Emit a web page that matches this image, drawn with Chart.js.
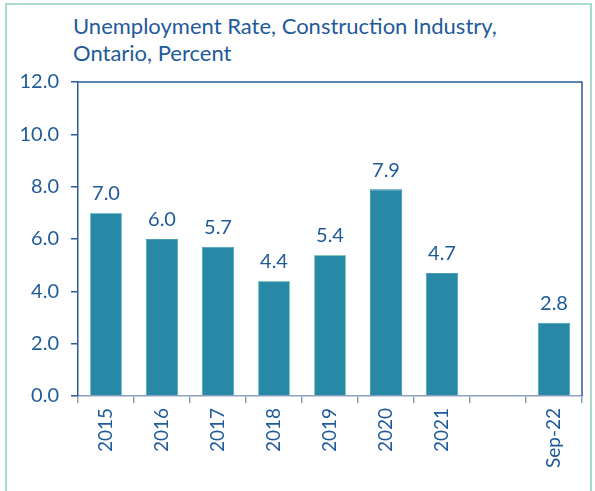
<!DOCTYPE html>
<html><head><meta charset="utf-8">
<script src="https://cdn.jsdelivr.net/npm/chart.js@4"></script>
<style>
html,body{margin:0;padding:0;background:#fff;}
#wrap{position:relative;width:595px;height:491px;overflow:hidden;}
#frame{position:absolute;left:5px;top:3px;width:587px;height:520px;border:2px solid #a9dcc9;box-sizing:border-box;}
#title{position:absolute;left:73px;top:12px;font-family:Lato,"Open Sans",sans-serif;font-size:22px;line-height:27px;color:#1F5B99;}
canvas{position:absolute;left:0;top:0;}
</style></head>
<body><div id="wrap"><div id="frame"></div>
<div id="title">Unemployment Rate, Construction Industry,<br>Ontario, Percent</div>
<canvas id="c" width="595" height="491"></canvas></div>
<script>
const categories = ["2015","2016","2017","2018","2019","2020","2021","","Sep-22"];
const rates = [7.0, 6.0, 5.7, 4.4, 5.4, 7.9, 4.7, null, 2.8];
const yTicks = [0, 2, 4, 6, 8, 10, 12];

const blue = '#1F5B99';
const barColor = '#2889A7';
const borderCols = ['#7fc3c4','#4c9fb6','#4c9fb6','#8fd3b8','#8fd3b8','#2889A7','#4c9fb6','#2889A7','#4c9fb6'];

const labelPlugin = {
  id: 'labels',
  afterDatasetsDraw(chart) {
    const ctx = chart.ctx;
    const meta = chart.getDatasetMeta(0);
    ctx.save();
    ctx.fillStyle = blue;
    ctx.font = '20px Lato, "Open Sans", sans-serif';
    ctx.textAlign = 'center';
    ctx.textBaseline = 'bottom';
    meta.data.forEach((el, i) => {
      const v = rates[i];
      if (v === null) return;
      ctx.fillText(v.toFixed(1), el.x, el.y - 9);
    });
    ctx.restore();
  },
  afterDraw(chart) {
    const a = chart.chartArea, ctx = chart.ctx;
    ctx.save();
    ctx.strokeStyle = '#2A5C98';
    ctx.lineWidth = 1.5;
    ctx.beginPath();
    ctx.moveTo(a.left, a.top);
    ctx.lineTo(a.right, a.top);
    ctx.lineTo(a.right, a.bottom);
    ctx.stroke();
    ctx.restore();
  }
};

new Chart(document.getElementById('c'), {
  type: 'bar',
  data: {
    labels: categories,
    datasets: [{
      data: rates,
      backgroundColor: barColor,
      borderColor: borderCols,
      borderWidth: 1,
      barPercentage: 0.58,
      categoryPercentage: 1
    }]
  },
  options: {
    responsive: false,
    animation: false,
    layout: { padding: { top: 82, right: 13, left: 0, bottom: 0 } },
    plugins: { legend: { display: false }, tooltip: { enabled: false }, title: { display: false } },
    scales: {
      x: {
        afterFit(s) { s.height = 95; },
        border: { color: '#8EA1BF', width: 1.5 },
        grid: { offset: true, drawOnChartArea: false, tickLength: 7, color: '#8EA1BF', lineWidth: 1.5 },
        ticks: {
          color: blue, minRotation: 90, maxRotation: 90, padding: 5, autoSkip: false,
          font: { family: 'Lato, "Open Sans", sans-serif', size: 19 }
        }
      },
      y: {
        min: 0, max: 12,
        afterFit(s) { s.width = 78; },
        afterBuildTicks(s) { s.ticks = yTicks.map(v => ({ value: v })); },
        border: { color: '#2A5C98', width: 1.5 },
        grid: { drawOnChartArea: false, tickLength: 7, color: '#2A5C98', lineWidth: 1.5 },
        ticks: {
          color: blue, padding: 12,
          font: { family: 'Lato, "Open Sans", sans-serif', size: 20 },
          callback: v => Number(v).toFixed(1)
        }
      }
    }
  },
  plugins: [labelPlugin]
});
</script></body></html>
